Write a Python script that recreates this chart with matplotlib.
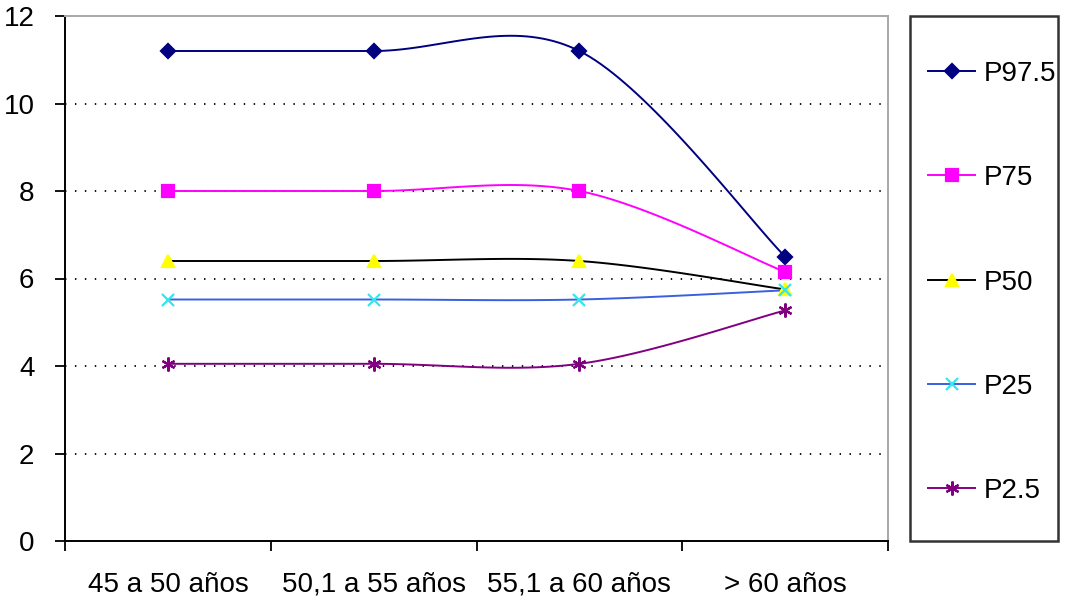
import matplotlib.pyplot as plt
from matplotlib.patches import Rectangle
import numpy as np

categories = ["45 a 50 años", "50,1 a 55 años", "55,1 a 60 años", "> 60 años"]
labels = ["P97.5", "P75", "P50", "P25", "P2.5"]
p975 = [11.2, 11.2, 11.2, 6.5]
p75 = [8.0, 8.0, 8.0, 6.15]
p50 = [6.4, 6.4, 6.4, 5.75]
p25 = [5.52, 5.52, 5.52, 5.73]
p2_5 = [4.05, 4.05, 4.05, 5.27]

series = [p975, p75, p50, p25, p2_5]
line_colors = ["#000080", "#FF00FF", "#000000", "#3a5fe0", "#800080"]
marker_colors = ["#000080", "#FF00FF", "#FFFF00", "#33E6F0", "#800080"]
markers = ["D", "s", "^", "x", (6, 2, 0)]
marker_sizes = [7, 9, 9, 9, 10]

plt.rcParams['font.family'] = ['Liberation Sans', 'DejaVu Sans']
FS = 20


def smooth(x, y, n=40):
    # excel-like smoothed line (catmull-rom bezier)
    x = np.asarray(x, float)
    y = np.asarray(y, float)
    pts = np.column_stack([x, y])
    out = []
    m = len(pts)
    for i in range(m - 1):
        p0 = pts[i]
        p3 = pts[i + 1]
        prev = pts[i - 1] if i > 0 else p0
        nxt = pts[i + 2] if i + 2 < m else p3
        c1 = p0 + (p3 - prev) / 6
        c2 = p3 - (nxt - p0) / 6
        t = np.linspace(0, 1, n)[:, None]
        seg = ((1 - t) ** 3) * p0 + 3 * ((1 - t) ** 2) * t * c1 + 3 * (1 - t) * t ** 2 * c2 + t ** 3 * p3
        out.append(seg if i == 0 else seg[1:])
    out = np.vstack(out)
    return out[:, 0], out[:, 1]


fig = plt.figure(figsize=(10.65, 6.02), dpi=100)
ax = fig.add_axes([65 / 1065, 61 / 602, 823 / 1065, 525 / 602])

xs = np.arange(len(categories))
handles = []
for vals, lab, lc, mc, mk, ms in zip(series, labels, line_colors, marker_colors, markers, marker_sizes):
    sx, sy = smooth(xs, vals)
    ax.plot(sx, sy, color=lc, lw=1.4, zorder=3)
    ax.plot(xs, vals, linestyle="none", marker=mk, ms=ms, mfc=mc, mec=mc, mew=1.6, zorder=4)
    h, = ax.plot([], [], color=lc, lw=1.4, marker=mk, ms=ms, mfc=mc, mec=mc, mew=1.6, label=lab)
    handles.append(h)

ax.set_xlim(-0.5, 3.5)
ax.set_ylim(0, 12)
ax.set_yticks(range(0, 13, 2))
ax.set_xticks(np.arange(-0.5, 3.6, 1))
ax.set_xticklabels([])
ax.set_xticks(xs, minor=True)
ax.set_xticklabels(categories, minor=True, fontsize=FS)
ax.tick_params(axis="x", which="minor", length=0, pad=22)
ax.tick_params(axis="x", which="major", length=7, width=1.3, direction="out")
ax.tick_params(axis="y", length=7, width=1.3, direction="out", pad=15, labelsize=FS)

for yv in range(2, 12, 2):
    ax.axhline(yv, color="black", lw=1.3, linestyle=(0, (0.8, 4.7)), zorder=1)

ax.spines["left"].set_linewidth(1.4)
ax.spines["bottom"].set_linewidth(1.4)
ax.spines["top"].set_color("#a8a8a8")
ax.spines["right"].set_color("#a8a8a8")
ax.spines["top"].set_linewidth(1.4)
ax.spines["right"].set_linewidth(1.4)

fig.add_artist(Rectangle((910 / 1065, 61 / 602), 148 / 1065, 525 / 602,
                         transform=fig.transFigure, fill=False, ec="#333333", lw=1.8))
fig.legend(handles=handles, loc="center left", bbox_to_anchor=(928 / 1065, (602 - 282.5) / 602),
           frameon=False, fontsize=FS, borderpad=0, borderaxespad=0,
           handlelength=1.7, handletextpad=0.3, labelspacing=2.82)

fig.savefig("out.png", dpi=100)
